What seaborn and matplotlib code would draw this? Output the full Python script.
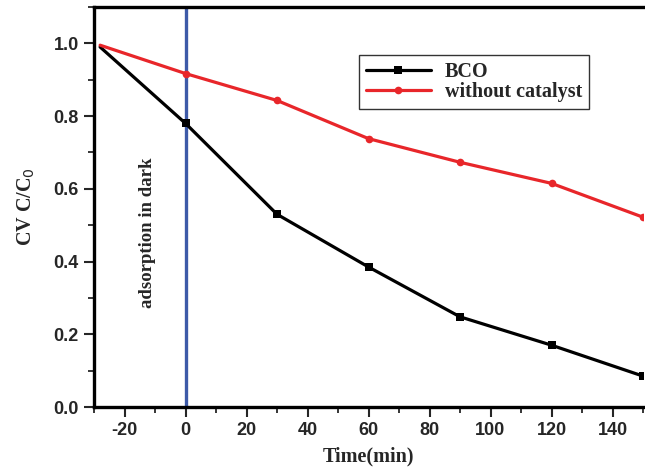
import matplotlib
matplotlib.use("Agg")
import matplotlib.pyplot as plt
import seaborn as sns
import pandas as pd
from matplotlib.ticker import MultipleLocator

time_min = [-28, 0, 30, 60, 90, 120, 150]
bco = [0.99, 0.78, 0.53, 0.385, 0.248, 0.17, 0.085]
no_cat = [0.995, 0.917, 0.843, 0.738, 0.673, 0.615, 0.522]
series_names = ["BCO", "without catalyst"]

df = pd.DataFrame({
    "Time": time_min * 2,
    "value": bco + no_cat,
    "series": [series_names[0]] * len(time_min) + [series_names[1]] * len(time_min),
})

sns.set_style("white")
plt.rcParams["font.family"] = ["Liberation Sans", "DejaVu Sans"]
plt.rcParams["axes.unicode_minus"] = False

fig = plt.figure(figsize=(6.45, 4.70), dpi=100)
ax = fig.add_axes([94 / 645, 63 / 470, 549 / 645, 400 / 470])

palette = {"BCO": "#000000", "without catalyst": "#e8262a"}
markers = {"BCO": "s", "without catalyst": "o"}
sns.lineplot(data=df, x="Time", y="value", hue="series", style="series",
             palette=palette, markers=markers, dashes=False, linewidth=2.3,
             markersize=5.5, markeredgewidth=0, ax=ax, zorder=3,
             markevery=list(range(1, len(time_min))))

ax.axvline(0, color="#3d5aa8", linewidth=2.4, zorder=2)

ax.set_xlim(-30, 150)
ax.set_ylim(0, 1.1)
ax.xaxis.set_major_locator(MultipleLocator(20))
ax.xaxis.set_minor_locator(MultipleLocator(10))
ax.yaxis.set_major_locator(MultipleLocator(0.2))
ax.yaxis.set_minor_locator(MultipleLocator(0.1))
ax.set_yticks([0, 0.2, 0.4, 0.6, 0.8, 1.0])
ax.set_yticklabels(["0.0", "0.2", "0.4", "0.6", "0.8", "1.0"])
ax.tick_params(which="major", direction="out", length=7, width=1.5,
               bottom=True, left=True, top=False, right=False,
               labelsize=13, pad=4)
ax.tick_params(which="minor", direction="out", length=4, width=1.3,
               bottom=True, left=True, top=False, right=False)
for lbl in ax.get_xticklabels() + ax.get_yticklabels():
    lbl.set_fontweight("bold")

for side in ["left", "bottom", "top"]:
    ax.spines[side].set_linewidth(2.4)
    ax.spines[side].set_color("black")
ax.spines["right"].set_visible(False)

serif = ["Liberation Serif", "DejaVu Serif"]
ax.set_xlabel("Time(min)", fontsize=14.5, fontweight="bold", family=serif, labelpad=5)
ax.set_ylabel("CV C/C$_0$", fontsize=14.5, fontweight="bold", family=serif, labelpad=12)

ax.text(-12.6, 0.48, "adsorption in dark", rotation=90, ha="center", va="center",
        fontsize=13.5, fontweight="bold", family=serif)

leg = ax.legend(loc="upper right", bbox_to_anchor=(0.902, 0.88), frameon=True,
                fancybox=False, edgecolor="black", handlelength=3.2,
                prop={"family": serif, "weight": "bold", "size": 14.5},
                borderpad=0.35, borderaxespad=0, labelspacing=0.0,
                handletextpad=0.7)
leg.get_frame().set_linewidth(1.0)

fig.savefig("out.png", dpi=100)
